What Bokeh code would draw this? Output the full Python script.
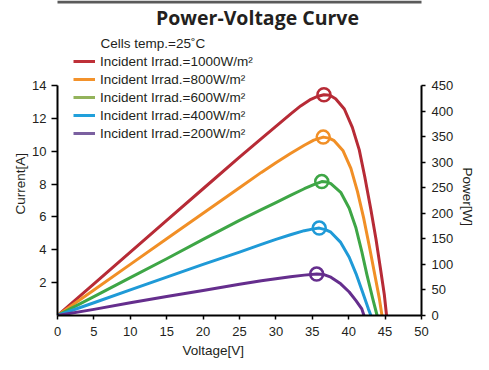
from bokeh.plotting import figure
from bokeh.models import (Range1d, LinearAxis, Label, Legend, LegendItem, FixedTicker, Title,
                          BoxAnnotation)
from bokeh.embed import file_html
from bokeh.resources import INLINE

# ---- data ----
series_names = ["Incident Irrad.=1000W/m²", "Incident Irrad.=800W/m²", "Incident Irrad.=600W/m²",
                "Incident Irrad.=400W/m²", "Incident Irrad.=200W/m²"]

v_1000 = [0, 5, 10, 15, 20, 25, 28, 30, 32, 33.4, 34.8, 35.8, 36.6, 37.4, 38.2, 39.4, 40.5, 41.45, 42.2, 43.05, 43.75, 44.35, 44.9, 45.2]
p_1000 = [0, 62, 124, 186, 248, 310, 346, 370, 394, 410, 423, 429, 432, 431, 424, 404, 368, 324, 272, 207, 149, 93, 40, 0]

v_800 = [0, 5, 10, 15, 20, 25, 28, 30, 32, 33.9, 35.2, 36.5, 37.3, 38.0, 39.2, 40.3, 41.2, 42.05, 42.8, 43.5, 44.2, 44.57]
p_800 = [0, 50, 100, 150, 200, 250, 280, 299, 317, 333, 343, 349, 347, 342, 323, 288, 243, 191, 138, 86, 34, 0]

v_600 = [0, 5, 10, 15, 20, 25, 28, 30, 32, 33.9, 35.2, 36.3, 37.0, 37.55, 38.9, 40.07, 41.0, 41.8, 42.5, 43.3, 43.9]
p_600 = [0, 37, 74, 111, 149, 186, 207, 221, 235, 248, 256, 262, 261, 258, 241, 210, 171, 125, 80, 33, 0]

v_400 = [0, 5, 10, 15, 20, 25, 28, 30, 32, 33.9, 35.0, 35.95, 36.8, 37.55, 38.9, 40.07, 41.0, 41.9, 42.7, 43.05]
p_400 = [0, 25, 50, 75, 100, 124, 139, 149, 158, 166, 169, 171, 168, 163, 143, 114, 82, 46, 13, 0]

v_200 = [0, 5, 10, 15, 20, 25, 28, 30, 32, 33.9, 35.6, 36.6, 37.55, 38.9, 40.07, 41.0, 41.8, 42.1]
p_200 = [0, 12, 25, 37, 49, 61, 68, 72, 76, 79, 81, 80, 75, 62, 46, 29, 13, 0]

peak_v = [36.6, 36.5, 36.3, 35.95, 35.6]
peak_p = [432, 349, 262, 171, 81]

x_ticks = [0, 5, 10, 15, 20, 25, 30, 35, 40, 45, 50]
current_ticks = [2, 4, 6, 8, 10, 12, 14]
power_ticks = [0, 50, 100, 150, 200, 250, 300, 350, 400, 450]

line_colors = ["#B72B36", "#F18F26", "#3EA646", "#1F9AD7", "#652E8D"]
legend_colors = ["#BE3038", "#F3922B", "#93B35B", "#21A0DB", "#7B60A0"]

TXT = "#231f20"
FONT = "Liberation Sans"

# ---- geometry ----
cur_max = 14.0
pow_max = 450.0
frame_h = 315
px_per_amp = 230 / cur_max
y_end = frame_h / px_per_amp
p_end = y_end * pow_max / cur_max

p = figure(frame_width=364, frame_height=frame_h, min_border_left=57, min_border_right=60,
           min_border_top=0, min_border_bottom=47, output_backend="svg", toolbar_location=None,
           x_range=Range1d(0, 50), y_range=Range1d(0, y_end), y_axis_location=None,
           x_axis_location=None, background_fill_color="white", border_fill_color="white")
p.outline_line_color = None
p.grid.visible = False
p.extra_y_ranges = {"power": Range1d(0, p_end)}

# thin grey rule along the top edge
p.add_layout(BoxAnnotation(left=-10, right=60, top=y_end, bottom=y_end - 3 / px_per_amp,
                           fill_color="#5a5a5a", fill_alpha=1, line_color=None))

def style_axis(ax):
    ax.axis_line_color = "black"
    ax.axis_line_width = 2
    ax.major_tick_line_color = "black"
    ax.major_tick_line_width = 1.5
    ax.minor_tick_line_color = None
    ax.major_label_text_font = FONT
    ax.major_label_text_font_size = "13px"
    ax.major_label_text_color = TXT

xax = LinearAxis(ticker=FixedTicker(ticks=x_ticks), bounds=(0, 50))
style_axis(xax)
xax.major_tick_in = 0
xax.major_tick_out = 4
xax.major_label_standoff = 7
p.add_layout(xax, "below")

lax = LinearAxis(ticker=FixedTicker(ticks=current_ticks), bounds=(0, cur_max))
style_axis(lax)
lax.major_tick_in = 0
lax.major_tick_out = 6
lax.major_label_standoff = 5
p.add_layout(lax, "left")

rax = LinearAxis(y_range_name="power", ticker=FixedTicker(ticks=power_ticks), bounds=(0, pow_max))
style_axis(rax)
rax.major_tick_in = 0
rax.major_tick_out = 4
rax.major_label_standoff = 6
p.add_layout(rax, "right")

# axis titles as side-panel titles (pixel offsets along the frame)
def side_title(text, side, offset, valign="middle", standoff=2):
    p.add_layout(Title(text=text, align="left", offset=offset, vertical_align=valign,
                       standoff=standoff, text_font=FONT, text_font_size="13.5px",
                       text_font_style="normal", text_color=TXT), side)

side_title("Current[A]", "left", 101)
side_title("Voltage[V]", "below", 125, valign="bottom", standoff=5)
side_title("Power[W]", "right", 167, valign="bottom", standoff=6)

vs = [v_1000, v_800, v_600, v_400, v_200]
ps = [p_1000, p_800, p_600, p_400, p_200]
for v, pw, c in zip(vs, ps, line_colors):
    p.line(v, pw, y_range_name="power", line_color=c, line_width=3, line_join="round")

p.scatter(peak_v, peak_p, y_range_name="power", marker="circle", size=13,
          fill_color=None, line_color=line_colors, line_width=2.5)

# legend with its own (lighter) swatch colours
items = []
for name, c in zip(series_names, legend_colors):
    r = p.line([0], [0], line_color=c, line_width=3, visible=False)
    items.append(LegendItem(label=name, renderers=[r]))
legend = Legend(items=items, location=(16, 173), orientation="vertical",
                glyph_width=22, glyph_height=18, label_height=18, spacing=0,
                padding=0, margin=0, label_standoff=5, border_line_color=None,
                background_fill_alpha=0, label_text_font=FONT,
                label_text_font_size="13.5px", label_text_color=TXT)
p.add_layout(legend)

def lab(text, x, y, size="13px", align="center", font=FONT, style="normal", color=TXT):
    p.add_layout(Label(x=x, y=y, text=text, text_font=font, text_font_size=size,
                       text_align=align, text_baseline="middle",
                       text_font_style=style, text_color=color))

lab("Power-Voltage Curve", 27.47, 18.14, size="19.5px", font="Open Sans", style="bold")
lab("Cells temp.=25˚C", 5.91, 16.56, size="13.5px", align="left")

open("out.html", "w").write(file_html(p, INLINE))
